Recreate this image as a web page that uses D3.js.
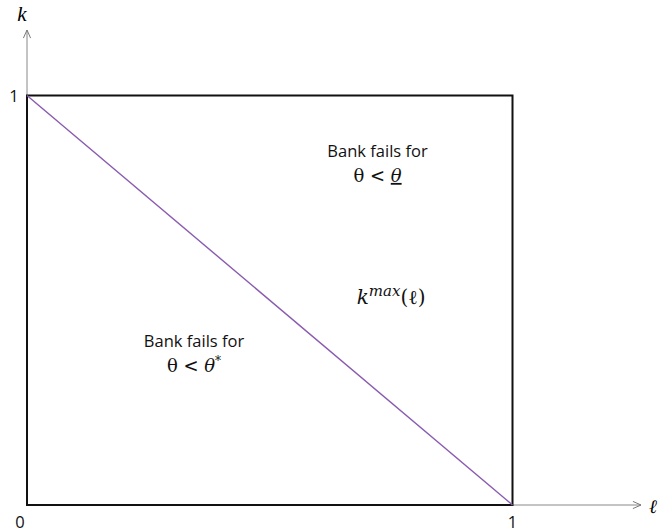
<!DOCTYPE html>
<html><head><meta charset="utf-8">
<script src="https://cdn.jsdelivr.net/npm/d3@7"></script>
<style>body{margin:0;background:#fff}</style>
</head><body>
<svg id="c" width="658" height="532"></svg>
<script>
const boxCorners = [[0,0],[1,0],[1,1],[0,1]];
const kmaxLine = [[0,1],[1,0]];
const tickLabels = [{axis:"x",v:0,t:"0"},{axis:"x",v:1,t:"1"},{axis:"y",v:1,t:"1"}];
const regionLabels = [
  {x:0.722, y:0.85, l1:"Bank fails for", sub:"under"},
  {x:0.344, y:0.387, l1:"Bank fails for", sub:"star"}
];

const svg = d3.select("#c");
const x = d3.scaleLinear().domain([0,1]).range([27,512.5]);
const y = d3.scaleLinear().domain([0,1]).range([505,95.5]);

svg.append("defs").append("marker").attr("id","arr").attr("viewBox","0 0 10 10")
  .attr("refX",10).attr("refY",5).attr("markerWidth",9).attr("markerHeight",9)
  .attr("markerUnits","userSpaceOnUse").attr("orient","auto")
  .append("path").attr("d","M1,1 L10,5 L1,9").attr("fill","none").attr("stroke","#777").attr("stroke-width",1.1);

svg.append("line").attr("x1",x(0)).attr("y1",y(0)).attr("x2",x(0)).attr("y2",30)
  .attr("stroke","#888").attr("stroke-width",1).attr("marker-end","url(#arr)");
svg.append("line").attr("x1",x(0)).attr("y1",y(0)).attr("x2",641).attr("y2",y(0))
  .attr("stroke","#888").attr("stroke-width",1).attr("marker-end","url(#arr)");

svg.append("path").attr("d", d3.line().x(d=>x(d[0])).y(d=>y(d[1]))(boxCorners)+"Z")
  .attr("fill","none").attr("stroke","#111").attr("stroke-width",2);

svg.append("path").attr("d", d3.line().x(d=>x(d[0])).y(d=>y(d[1]))(kmaxLine))
  .attr("fill","none").attr("stroke","#8a5bb0").attr("stroke-width",1.4);

tickLabels.forEach(d=>{
  const t = svg.append("text").text(d.t).attr("font-family","Open Sans, sans-serif").attr("font-size",16.5).attr("fill","#111");
  if(d.axis==="x") t.attr("x",x(d.v)+ (d.v===0?-7:0)).attr("y",528).attr("text-anchor","middle");
  else t.attr("x",x(0)-13).attr("y",y(d.v)+6).attr("text-anchor","middle");
});

svg.append("text").text("k").attr("x",22).attr("y",21).attr("font-family","Liberation Serif, serif").attr("font-style","italic").attr("font-size",21).attr("text-anchor","middle");
svg.append("text").text("ℓ").attr("x",649).attr("y",513).attr("font-family","DejaVu Serif, serif").attr("font-style","italic").attr("font-size",19);

regionLabels.forEach(d=>{
  const cx = x(d.x), cy = y(d.y);
  svg.append("text").text(d.l1).attr("x",cx).attr("y",cy).attr("text-anchor","middle")
    .attr("font-family","Open Sans, sans-serif").attr("font-size",16.5).attr("fill","#111");
  const t = svg.append("text").attr("x",cx).attr("y",cy+25).attr("text-anchor","middle")
    .attr("font-family","DejaVu Serif, serif").attr("font-size",18).attr("fill","#111");
  t.append("tspan").text("θ < ");
  if(d.sub==="under"){
    t.append("tspan").text("θ").attr("font-style","italic").attr("text-decoration","underline");
  } else {
    t.append("tspan").text("θ").attr("font-style","italic");
    t.append("tspan").text("*").attr("font-size",12).attr("dy",-7);
  }
});

const km = svg.append("text").attr("x",x(0.75)).attr("y",y(0.49)).attr("text-anchor","middle")
  .attr("font-family","DejaVu Serif, serif").attr("font-style","italic").attr("font-size",20).attr("fill","#111");
km.append("tspan").text("k");
km.append("tspan").text("max").attr("font-size",15).attr("dy",-8);
km.append("tspan").text("(ℓ)").attr("dy",8).attr("font-style","normal");
</script>
</body></html>
